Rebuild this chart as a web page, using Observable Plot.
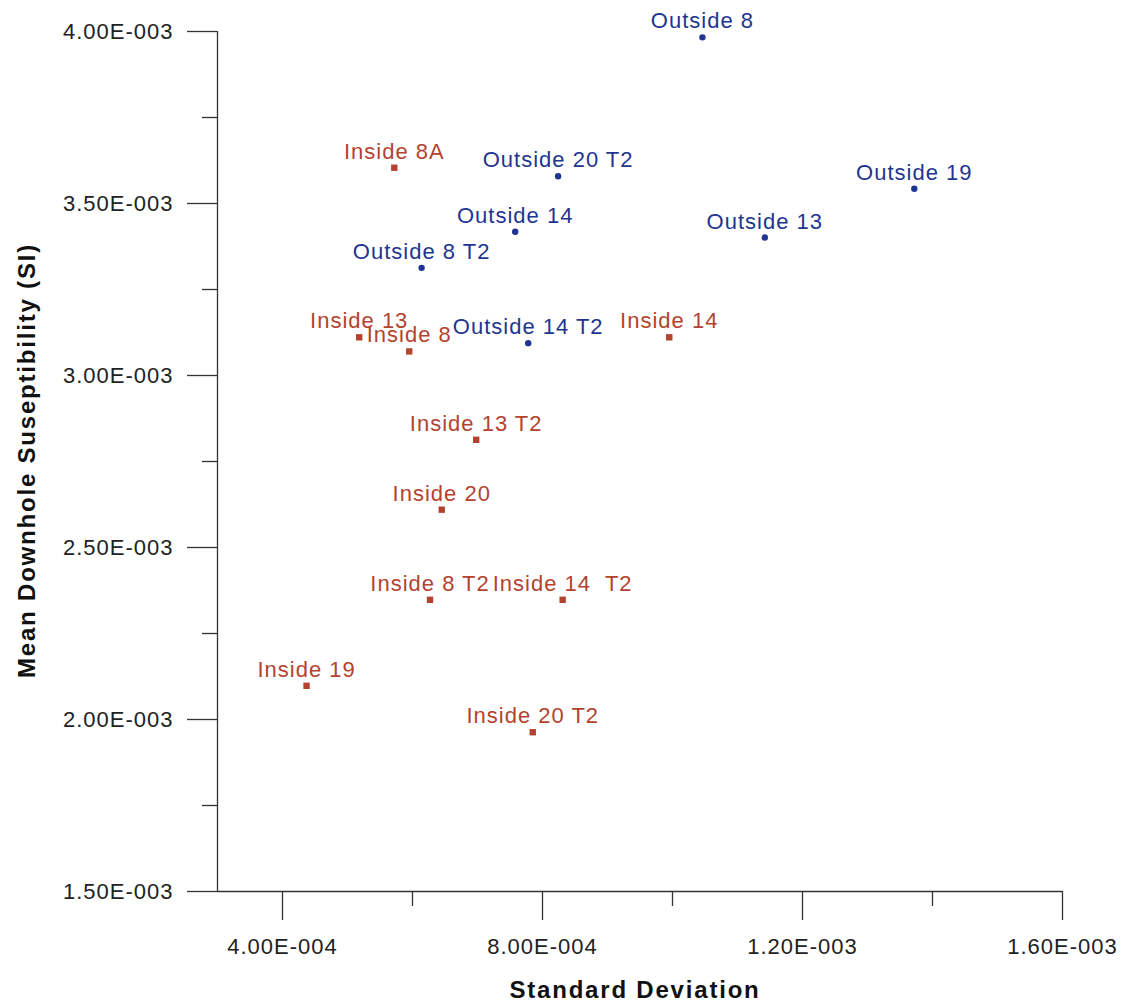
<!DOCTYPE html>
<html>
<head>
<meta charset="utf-8">
<script src="https://cdn.jsdelivr.net/npm/d3@7"></script>
<script src="https://cdn.jsdelivr.net/npm/@observablehq/plot@0.6"></script>
<style>
  body { margin: 0; background: #fff; }
  #chart svg text { white-space: pre; }
</style>
</head>
<body>
<div id="chart"></div>
<script>
// Sample sites: name, standard deviation, mean downhole susceptibility (SI), group
const siteNames = [
  "Outside 8", "Inside 8A", "Outside 20 T2", "Outside 19", "Outside 14",
  "Outside 13", "Outside 8 T2", "Inside 13", "Inside 8", "Outside 14 T2",
  "Inside 14", "Inside 13 T2", "Inside 20", "Inside 8 T2", "Inside 14  T2",
  "Inside 19", "Inside 20 T2"
];
const stdDev = [
  1.046e-3, 5.72e-4, 8.24e-4, 1.372e-3, 7.58e-4,
  1.142e-3, 6.14e-4, 5.18e-4, 5.95e-4, 7.78e-4,
  9.95e-4, 6.98e-4, 6.45e-4, 6.27e-4, 8.31e-4,
  4.37e-4, 7.85e-4
];
const meanSusc = [
  3.983e-3, 3.604e-3, 3.579e-3, 3.543e-3, 3.418e-3,
  3.401e-3, 3.313e-3, 3.111e-3, 3.070e-3, 3.094e-3,
  3.111e-3, 2.813e-3, 2.610e-3, 2.348e-3, 2.348e-3,
  2.098e-3, 1.963e-3
];
const siteGroup = [
  "Outside", "Inside", "Outside", "Outside", "Outside",
  "Outside", "Outside", "Inside", "Inside", "Outside",
  "Inside", "Inside", "Inside", "Inside", "Inside",
  "Inside", "Inside"
];

// Axis ticks and their labels
const xMajorTicks = [4e-4, 8e-4, 1.2e-3, 1.6e-3];
const xMajorLabels = ["4.00E-004", "8.00E-004", "1.20E-003", "1.60E-003"];
const xMinorTicks = [6e-4, 1.0e-3, 1.4e-3];
const yMajorTicks = [1.5e-3, 2.0e-3, 2.5e-3, 3.0e-3, 3.5e-3, 4.0e-3];
const yMajorLabels = ["1.50E-003", "2.00E-003", "2.50E-003", "3.00E-003", "3.50E-003", "4.00E-003"];
const yMinorTicks = [1.75e-3, 2.25e-3, 2.75e-3, 3.25e-3, 3.75e-3];

const xTitle = "Standard Deviation";
const yTitle = "Mean Downhole Suseptibility (SI)";

const groupColors = { Inside: "#b3432e", Outside: "#1f3591" };

const sites = siteNames.map((name, i) => ({
  name, sd: stdDev[i], mean: meanSusc[i], group: siteGroup[i]
}));
const inside = sites.filter(d => d.group === "Inside");
const outside = sites.filter(d => d.group === "Outside");

const axisColor = "#333";

const chart = Plot.plot({
  width: 1138,
  height: 1006,
  marginLeft: 217,
  marginRight: 76,
  marginTop: 31,
  marginBottom: 115,
  style: { fontFamily: "'Liberation Sans', Arial, sans-serif", background: "#fff", color: "#222" },
  x: { domain: [3e-4, 1.6e-3] },
  y: { domain: [1.5e-3, 4e-3] },
  marks: [
    // axis lines
    Plot.ruleX([3e-4], { stroke: axisColor, strokeWidth: 1.3 }),
    Plot.ruleY([1.5e-3], { stroke: axisColor, strokeWidth: 1.3 }),
    // y axis
    Plot.axisY(yMajorTicks, {
      tickSize: 30, tickPadding: 14, strokeWidth: 1.3, stroke: axisColor,
      tickFormat: d => yMajorLabels[yMajorTicks.indexOf(d)],
      fontSize: 22, fill: "#222", label: null
    }),
    Plot.axisY(yMinorTicks, {
      tickSize: 15, strokeWidth: 1.3, stroke: axisColor, tickFormat: () => "", label: null
    }),
    // x axis
    Plot.axisX(xMajorTicks, {
      tickSize: 29, tickPadding: 18, strokeWidth: 1.3, stroke: axisColor,
      tickFormat: d => xMajorLabels[xMajorTicks.indexOf(d)],
      fontSize: 22, fill: "#222", label: null
    }),
    Plot.axisX(xMinorTicks, {
      tickSize: 15, strokeWidth: 1.3, stroke: axisColor, tickFormat: () => "", label: null
    }),
    // axis titles
    Plot.text([xTitle], {
      frameAnchor: "bottom", dy: 99, dx: -5, text: d => d,
      fontSize: 24, fontWeight: "bold", fill: "#111", lineAnchor: "middle", textAnchor: "middle"
    }),
    Plot.text([yTitle], {
      frameAnchor: "left", dx: -190, dy: -1, text: d => d, rotate: -90,
      fontSize: 24, fontWeight: "bold", fill: "#111", lineAnchor: "middle", textAnchor: "middle"
    }),
    // points
    Plot.dot(inside, { x: "sd", y: "mean", symbol: "square", r: 3.6, fill: groupColors.Inside, stroke: null }),
    Plot.dot(outside, { x: "sd", y: "mean", symbol: "circle", r: 3.2, fill: groupColors.Outside, stroke: null }),
    // point labels
    Plot.text(sites, {
      x: "sd", y: "mean", text: "name", lineAnchor: "bottom", dy: -9,
      fontSize: 22, fill: d => groupColors[d.group]
    })
  ]
});

document.getElementById("chart").appendChild(chart);

// letter spacing: regular labels slightly widened, titles more so
const svg = d3.select(chart);
svg.selectAll("text").attr("letter-spacing", "1px");
svg.selectAll("text")
  .filter(function () { return this.textContent === xTitle || this.textContent === yTitle; })
  .attr("letter-spacing", "1.8px");
</script>
</body>
</html>
